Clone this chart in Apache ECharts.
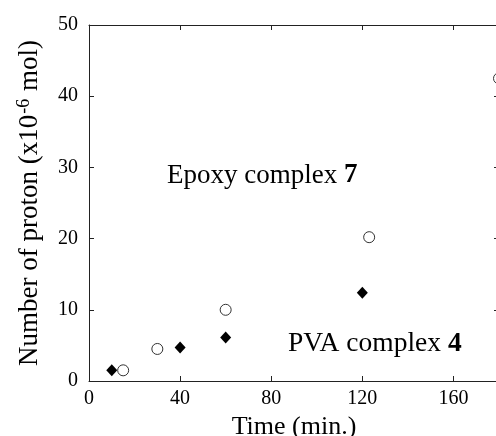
<!DOCTYPE html>
<html>
<head>
<meta charset="utf-8">
<script src="https://cdn.jsdelivr.net/npm/echarts@6/dist/echarts.min.js"></script>
<style>
html,body{margin:0;padding:0;background:#fff;}
#c{width:496px;height:436px;}
</style>
</head>
<body>
<div id="c"></div>
<script>
var pvaTime = [10, 40, 60, 120];
var pvaProton = [1.5, 4.7, 6.1, 12.4];
var epoxyTime = [15, 30, 60, 123, 180];
var epoxyProton = [1.5, 4.5, 10.0, 20.2, 42.5];
var xTicks = [0, 40, 80, 120, 160];
var yTicks = [0, 10, 20, 30, 40, 50];

var serif = '"Liberation Serif", "DejaVu Serif", serif';
var chart = echarts.init(document.getElementById('c'), null, {renderer: 'canvas'});

function pairs(xs, ys) { return xs.map(function (x, i) { return [x, ys[i]]; }); }

var axisLineStyle = {color: '#222', width: 1};
var option = {
  animation: false,
  backgroundColor: '#fff',
  grid: {left: 89, right: -3, top: 25, bottom: 55, containLabel: false, outerBoundsMode: 'none'},
  xAxis: [{
    type: 'value', min: 0, max: 180, interval: 40, position: 'bottom',
    name: 'Time (min.)', nameLocation: 'middle', nameGap: 23,
    nameTextStyle: {fontFamily: serif, fontSize: 26, color: '#000'},
    axisLine: {show: true, onZero: false, lineStyle: axisLineStyle},
    axisTick: {show: true, inside: true, length: 5, lineStyle: axisLineStyle},
    axisLabel: {fontFamily: serif, fontSize: 20, color: '#000', margin: 8, showMaxLabel: false},
    splitLine: {show: false}
  }, {
    type: 'value', min: 0, max: 180, interval: 40, position: 'top',
    axisLine: {show: true, onZero: false, lineStyle: axisLineStyle},
    axisTick: {show: true, inside: true, length: 5, lineStyle: axisLineStyle},
    axisLabel: {show: false}, splitLine: {show: false}
  }],
  yAxis: [{
    type: 'value', min: 0, max: 50, interval: 10, position: 'left',
    name: '{a|Number of proton (x10}{s|-6}{a| mol)}',
    nameLocation: 'middle', nameGap: 44, nameRotate: 90,
    nameTextStyle: {
      fontFamily: serif, color: '#000',
      rich: {
        a: {fontFamily: serif, fontSize: 27, color: '#000'},
        s: {fontFamily: serif, fontSize: 18, color: '#000', padding: [0, 1, 12, 1]}
      }
    },
    axisLine: {show: true, onZero: false, lineStyle: axisLineStyle},
    axisTick: {show: true, inside: true, length: 5, lineStyle: axisLineStyle},
    axisLabel: {fontFamily: serif, fontSize: 20, color: '#000', margin: 11},
    splitLine: {show: false}
  }, {
    type: 'value', min: 0, max: 50, interval: 10, position: 'right',
    axisLine: {show: true, onZero: false, lineStyle: axisLineStyle},
    axisTick: {show: true, inside: true, length: 5, lineStyle: axisLineStyle},
    axisLabel: {show: false}, splitLine: {show: false}
  }],
  series: [{
    name: 'PVA complex 4', type: 'scatter', xAxisIndex: 0, yAxisIndex: 0,
    symbol: 'diamond', symbolSize: [11, 12],
    itemStyle: {color: '#000', opacity: 1},
    data: pairs(pvaTime, pvaProton), z: 3
  }, {
    name: 'Epoxy complex 7', type: 'scatter', xAxisIndex: 0, yAxisIndex: 0,
    symbol: 'circle', symbolSize: 11,
    itemStyle: {color: '#fff', borderColor: '#333', borderWidth: 1, opacity: 1},
    data: pairs(epoxyTime, epoxyProton), z: 3
  }],
  graphic: [{
    type: 'text', left: 167, top: 162,
    style: {
      text: '{a|Epoxy complex }{b|7}',
      rich: {
        a: {fontFamily: serif, fontSize: 27, fill: '#000'},
        b: {fontFamily: serif, fontSize: 27, fontWeight: 'bold', fill: '#000'}
      }
    }
  }, {
    type: 'text', left: 288, top: 330,
    style: {
      text: '{a|PVA complex }{b|4}',
      rich: {
        a: {fontFamily: serif, fontSize: 27.5, fill: '#000'},
        b: {fontFamily: serif, fontSize: 27.5, fontWeight: 'bold', fill: '#000'}
      }
    }
  }]
};
chart.setOption(option);
</script>
</body>
</html>
